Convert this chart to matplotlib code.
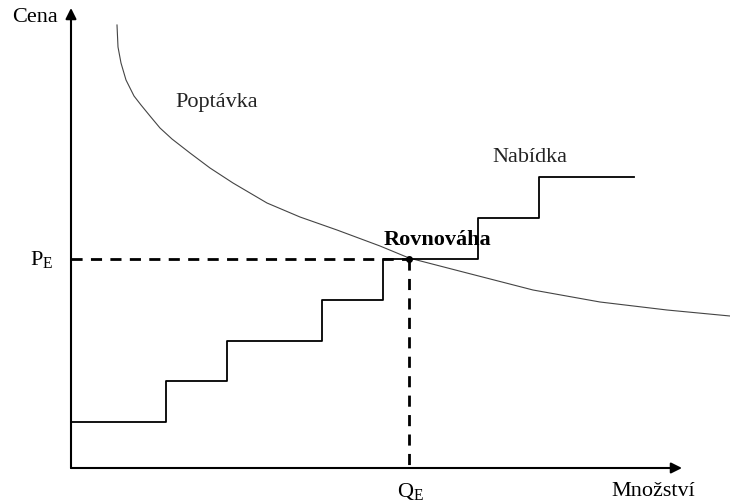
import numpy as np
import matplotlib.pyplot as plt

plt.rcParams['font.family'] = ['Liberation Serif', 'DejaVu Serif']
plt.rcParams['mathtext.fontset'] = 'custom'
plt.rcParams['mathtext.rm'] = 'Liberation Serif'

# supply steps (quantity edges, price levels)
step_q = [0, 95, 156, 251, 312, 407, 468, 563]
step_p = [46, 87, 127, 168, 209, 250, 291]

# demand curve
dem_q = [46, 47, 50, 55, 63, 70, 79, 89, 101, 119, 139, 162, 196, 229, 266, 309, 338, 396, 462, 529, 596, 659]
dem_p = [443, 421, 405, 388, 372, 363, 352, 340, 329, 315, 300, 285, 265, 251, 238, 222, 210, 195, 178, 166, 158, 152]

q_eq = 338
p_eq = 209

fig = plt.figure(figsize=(7.3, 5.04), dpi=100)
ax = fig.add_axes([0, 0, 1, 1])
ax.set_xlim(-71, 659)
ax.set_ylim(-36, 468)
ax.axis('off')

# axes with arrows
ax.annotate('', xy=(611, 0), xytext=(0, 0),
            arrowprops=dict(arrowstyle='-|>', lw=1.5, color='black', mutation_scale=16, shrinkA=0, shrinkB=0))
ax.annotate('', xy=(0, 460), xytext=(0, 0),
            arrowprops=dict(arrowstyle='-|>', lw=1.5, color='black', mutation_scale=16, shrinkA=0, shrinkB=0))

# supply
sq = []
sp = []
for i, p in enumerate(step_p):
    sq += [step_q[i], step_q[i + 1]]
    sp += [p, p]
ax.plot(sq, sp, color='black', lw=1.3, zorder=4)

# demand
ax.plot(dem_q, dem_p, color='#444444', lw=0.8)

# equilibrium
ax.plot([0, q_eq], [p_eq, p_eq], color='black', lw=2, ls=(0, (4, 3)))
ax.plot([q_eq, q_eq], [p_eq, 0], color='black', lw=2, ls=(0, (4, 3)))
ax.plot(q_eq, p_eq, 'o', color='black', ms=4, zorder=5)

fs = 16
ax.text(-13, 451, 'Cena', fontsize=fs, ha='right', va='center')
ax.text(-18, 209, r'$\mathrm{P_E}$', fontsize=fs, ha='right', va='center')
ax.text(339, -23, r'$\mathrm{Q_E}$', fontsize=fs, ha='center', va='center')
ax.text(582, -23, 'Množství', fontsize=fs, ha='center', va='center')
ax.text(366, 228, 'Rovnováha', fontsize=fs, fontweight='bold', ha='center', va='center')
ax.text(459, 310, 'Nabídka', fontsize=fs, ha='center', va='center', color='#222222')
ax.text(146, 365, 'Poptávka', fontsize=fs, ha='center', va='center', color='#222222')

fig.savefig('out.png', dpi=100)
